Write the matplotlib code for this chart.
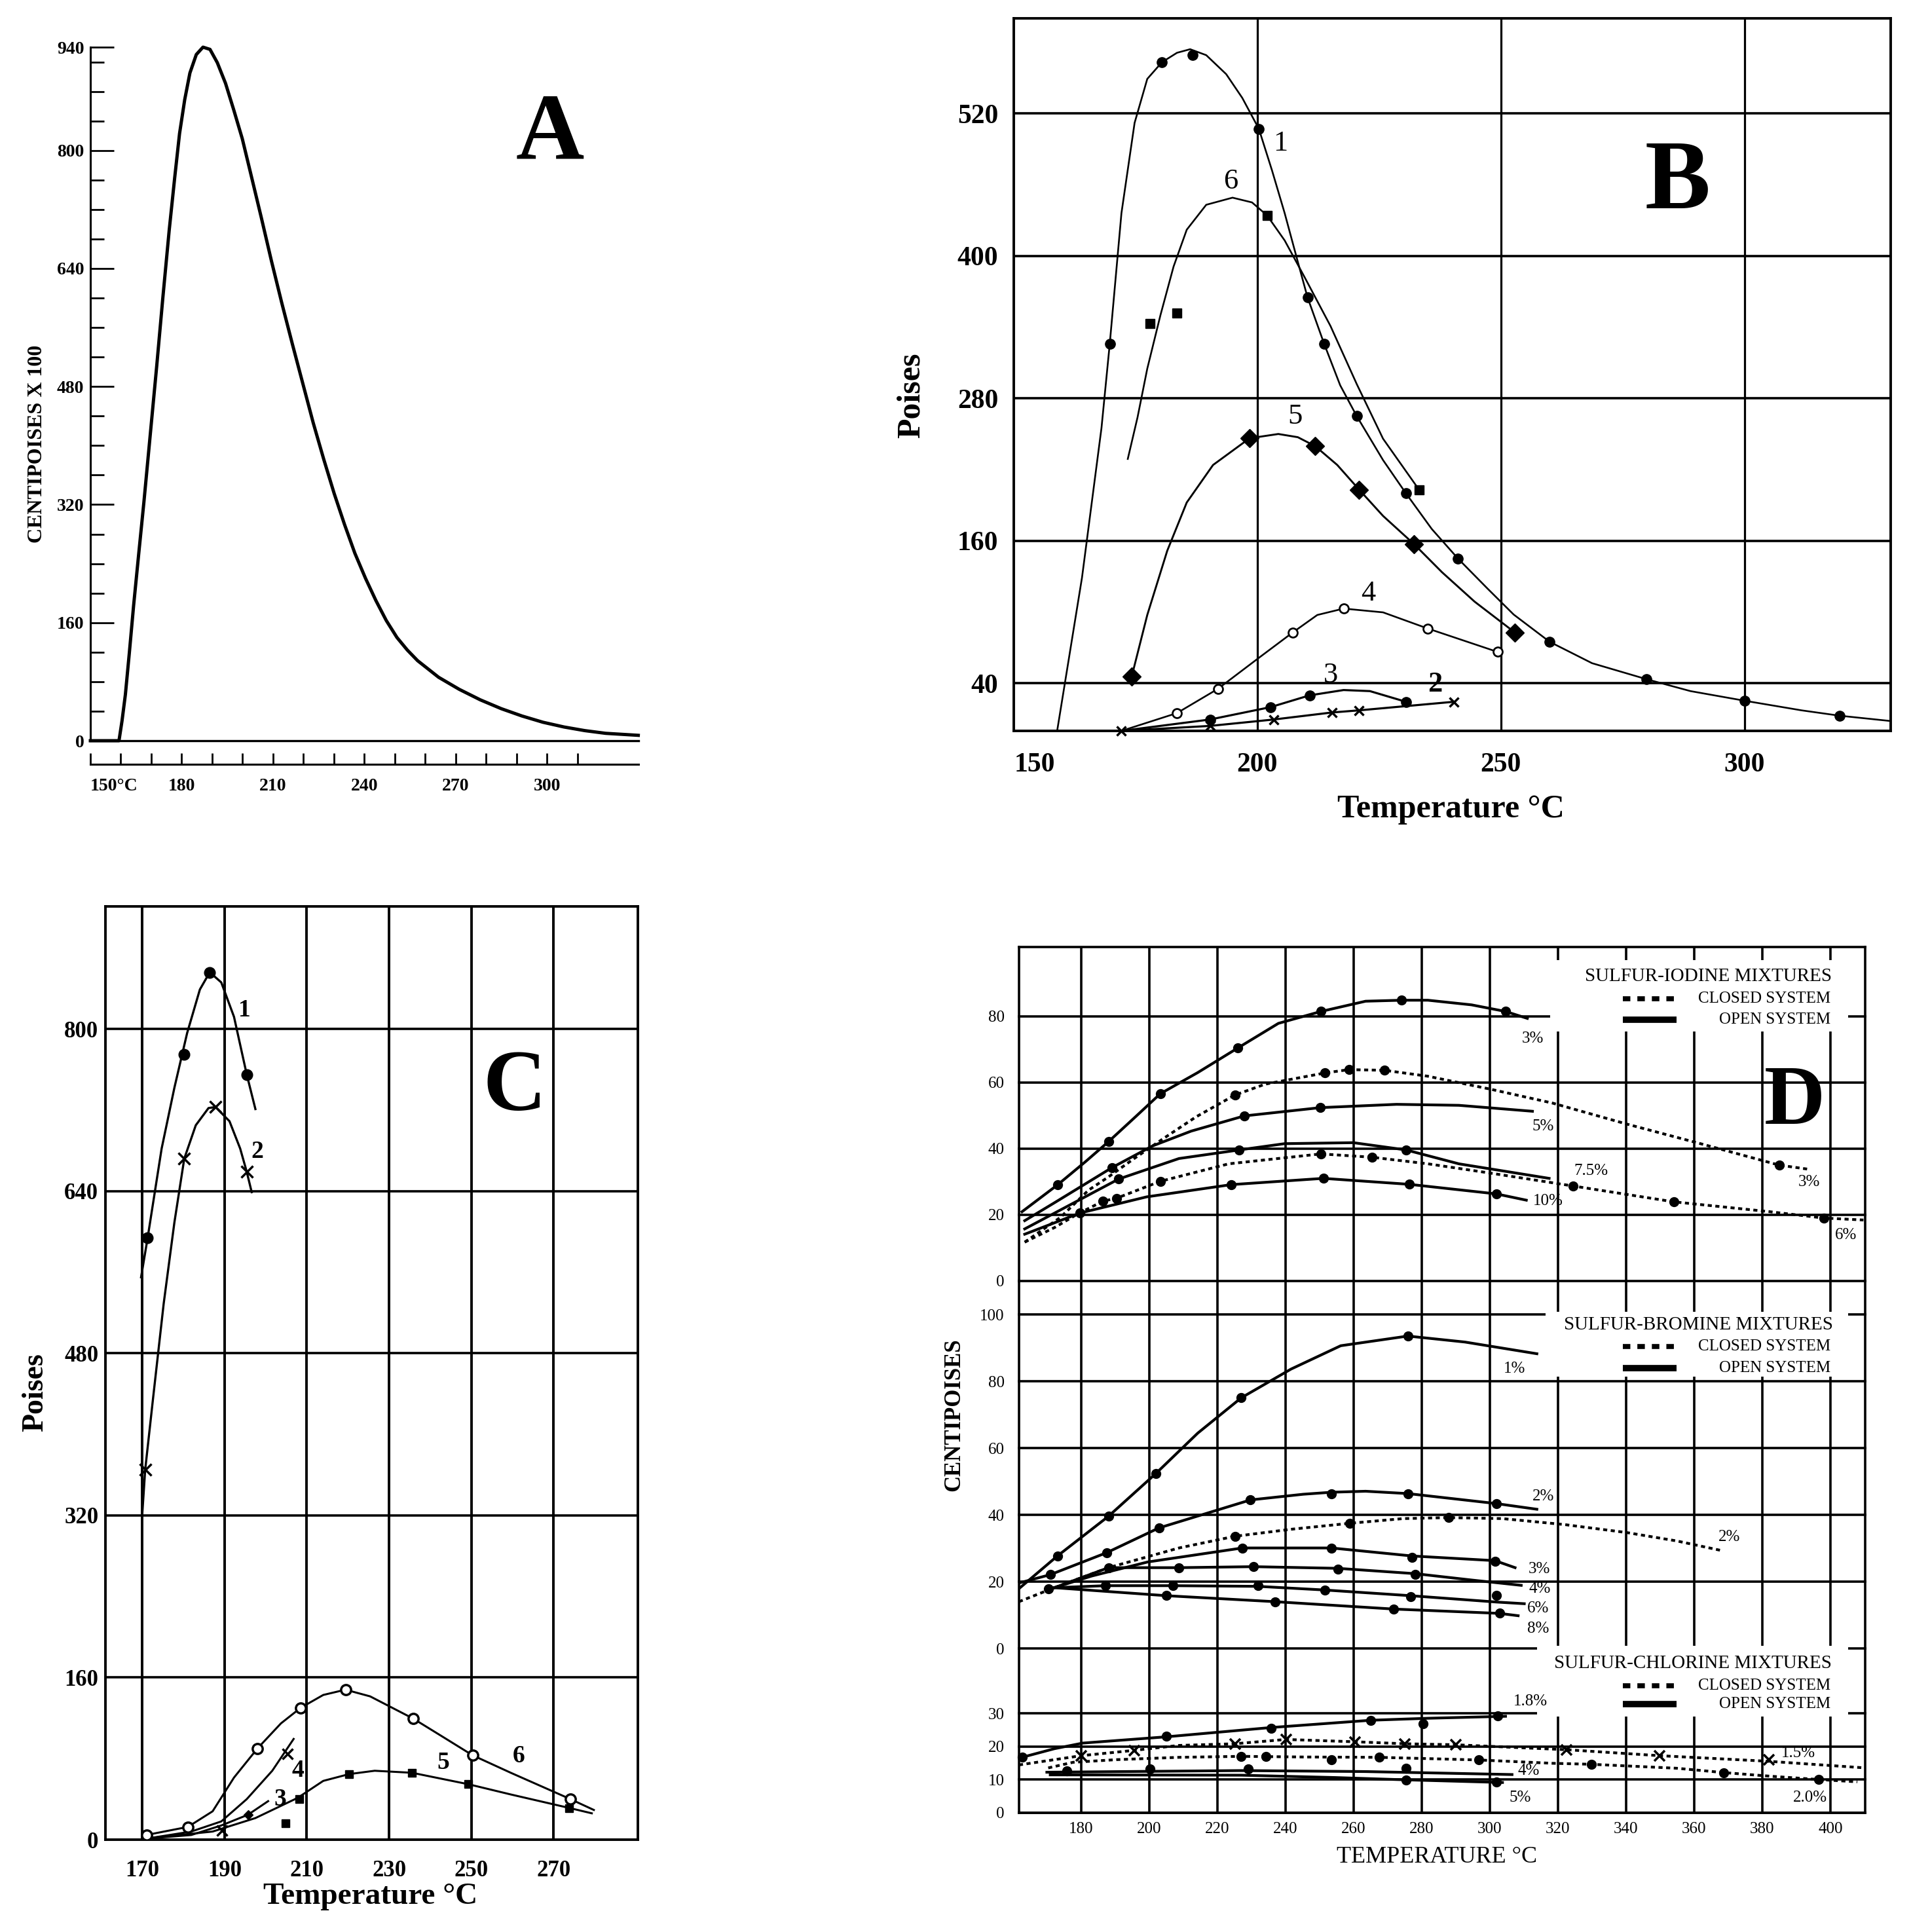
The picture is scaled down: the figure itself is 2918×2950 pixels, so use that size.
import matplotlib
matplotlib.use('Agg')
import matplotlib.pyplot as plt
from matplotlib.patches import Rectangle
from matplotlib.lines import Line2D

plt.rcParams['font.family'] = ['Liberation Serif', 'DejaVu Serif']

# ---------------- Panel A data ----------------
A_temp = [150, 159.4, 160.4, 161.5, 162.8, 164.2, 165.9, 167.6, 169.7, 171.8, 173.8, 175.9, 177.7,
          179.3, 181.0, 182.7, 184.8, 187.0, 189.3, 191.7, 194.4, 197.1, 199.9, 202.6, 206.1, 209.5,
          212.9, 216.4, 219.8, 223.2, 226.7, 230.1, 233.5, 236.9, 240.4, 243.8, 247.2, 250.7, 254.1,
          257.5, 264.4, 271.2, 278.1, 285.0, 291.8, 298.7, 305.6, 312.4, 319.3, 330.0]
A_visc = [0, 0, 27, 62.5, 119, 183, 254, 324, 416, 508, 600, 692, 763,
          823, 869, 905, 930, 940, 937, 919, 891, 855, 816, 770, 710, 650,
          593, 537, 484, 431, 381, 335, 293, 254, 220, 190, 163, 140, 123,
          108.5, 86, 69.6, 55.4, 43.4, 33.5, 25, 18.6, 13.7, 10, 7.3]
A_xmajor = [150, 180, 210, 240, 270, 300]
A_xlabels = ['150°C', '180', '210', '240', '270', '300']
A_xminor = [160, 170, 190, 200, 220, 230, 250, 260, 280, 290, 310]
A_ymajor = [0, 160, 320, 480, 640, 800, 940]
A_yminor = [40, 80, 120, 200, 240, 280, 360, 400, 440, 520, 560, 600, 680, 720, 760, 840, 880, 920]

# ---------------- Panel B data ----------------
B1_line_t = [158.9, 164, 168, 169.7, 172.1, 174.8, 177.4, 180.4, 183.5, 186.2, 189.5, 193.6, 196.9, 200.3,
             203, 205.6, 208.3, 210.3, 213.7, 217, 220.4, 225.8, 230.5, 235.8, 241.2, 247.2, 252.6, 260,
             268.7, 279.9, 288.9, 300, 311.7, 319.5, 330]
B1_line_v = [0, 129, 255, 326, 436, 512, 549, 563, 571, 574, 569, 553, 533, 507,
             472, 436, 395, 365, 326, 291, 265, 228, 200, 170, 145, 120, 98, 75,
             57, 43.5, 33.5, 25.4, 17.3, 12.8, 8.3]
B1_pt_t = [169.7, 180.4, 186.7, 200.3, 210.3, 213.7, 220.4, 230.5, 241.2, 260, 279.9, 300, 319.5]
B1_pt_v = [326, 563, 569, 507, 365, 326, 265, 200, 145, 75, 43.5, 25.4, 12.8]
B6_line_t = [173.4, 175.4, 177.4, 180.1, 182.8, 185.5, 189.5, 194.9, 198.9, 202, 205.6, 209.7, 215, 220.4, 225.8, 233.2]
B6_line_v = [229, 264, 305, 350, 391, 422, 443, 449, 445, 434, 413, 382, 341, 292, 246, 203]
B6_pt_t = [178, 183.5, 202, 233.2]
B6_pt_v = [343, 352, 434, 203]
B5_line_t = [174.2, 177.4, 181.5, 185.5, 190.9, 198.4, 204.3, 208.3, 211.9, 216.4, 220.9, 225.8, 232.2, 237.9, 244.6, 252.9]
B5_line_v = [45.7, 97.6, 151.7, 192.3, 223.9, 246.4, 250, 247.3, 239.7, 223.9, 203.1, 181, 157.1, 133.6, 108.8, 82.7]
B5_pt_t = [174.2, 198.4, 211.9, 220.9, 232.2, 252.9]
B5_pt_v = [45.7, 246.4, 239.7, 203.1, 157.1, 82.7]
B4_line_t = [172.1, 183.5, 191.9, 200.3, 207.2, 212.3, 217.7, 225.8, 234.9, 249.3]
B4_line_v = [0, 15, 35.4, 61.5, 82.7, 97.6, 103, 99.8, 86.3, 66.5]
B4_pt_t = [183.5, 191.9, 207.2, 217.7, 234.9, 249.3]
B4_pt_v = [15, 35.4, 82.7, 103, 86.3, 66.5]
B3_line_t = [172.1, 190.3, 202.7, 210.7, 217.7, 223.1, 230.5]
B3_line_v = [0, 9.6, 20, 29.9, 34.4, 33.5, 24.5]
B3_pt_t = [190.3, 202.7, 210.7, 230.5]
B3_pt_v = [9.6, 20, 29.9, 24.5]
B2_t = [172.1, 190.3, 203.4, 215.3, 220.9, 240.3]
B2_v = [0, 4.2, 9.6, 15.5, 17.3, 24.5]
B_labels = ['1', '6', '5', '4', '3', '2']
B_label_t = [204.7, 194.5, 207.7, 222.7, 215, 236.5]
B_label_v = [494.5, 462.9, 264.5, 115.6, 47, 39]
B_hgrid = [40, 160, 280, 400, 520]
B_vgrid = [200, 250, 300]
B_xticks = [154.3, 200, 250, 300]
B_xticklabels = ['150', '200', '250', '300']

# ---------------- Panel C data ----------------
C1_line_t = [169.7, 171.3, 174.7, 177.8, 180.9, 184, 186.4, 189.2, 192.3, 195.4, 197.5]
C1_line_v = [555, 594, 682, 742, 796, 839, 856, 846, 812, 755, 721]
C1_pt_t = [171.3, 180.2, 186.4, 195.4]
C1_pt_v = [594, 775, 856, 755]
C2_line_t = [170, 170.7, 172.6, 175.2, 177.8, 180.2, 183, 186.1, 187.8, 191.2, 193.8, 195.4, 196.6]
C2_line_v = [322, 365, 435, 529, 609, 672, 705, 722, 723, 709, 682, 659, 639]
C2_pt_t = [170.7, 180.2, 187.8, 195.4]
C2_pt_v = [365, 672, 723, 659]
C6_line_t = [171, 181.1, 187.1, 192.3, 198, 203.7, 208.5, 214, 219.4, 225.4, 235.9, 243.1, 250.3, 259.6, 274.1, 279.8]
C6_line_v = [4.6, 12.6, 28, 61.3, 90, 114.7, 130.1, 142.8, 148, 141.4, 119.4, 101.4, 83.3, 66, 40, 29.3]
C6_pt_t = [171, 181.1, 198, 208.5, 219.4, 235.9, 250.3, 274.1]
C6_pt_v = [4.6, 12.6, 90, 130.1, 148, 119.4, 83.3, 40]
C5_line_t = [171, 187.1, 197.5, 207.8, 214, 220.3, 226.5, 235.6, 249.3, 259.6, 273.8, 279.3]
C5_line_v = [1.3, 8, 21.3, 41.3, 58, 64.7, 68, 66, 54.7, 44.6, 31.3, 26]
C5_pt_t = [204.9, 208.1, 220.3, 235.6, 249.3, 273.8]
C5_pt_v = [16, 40, 64.7, 66, 54.7, 31.3]
C4_line_t = [171, 181.9, 189.2, 195.4, 201.6, 206.8]
C4_line_v = [1, 8, 18, 40, 68, 99.4]
C4_pt_t = [189.4, 205.3]
C4_pt_v = [9.2, 84.7]
C3_line_t = [171, 181.9, 189.2, 195.7, 200.6]
C3_line_v = [1, 4.6, 14, 24.6, 38]
C3_pt_t = [195.7]
C3_pt_v = [24.6]
C_labels = ['1', '2', '3', '4', '5', '6']
C_label_t = [194.9, 198, 203.5, 207.8, 243.1, 261.5]
C_label_v = [818.8, 678.7, 40, 68, 76, 82.7]
C_hgrid = [160, 320, 480, 640, 800]
C_vgrid = [170, 190, 210, 230, 250, 270]
C_yticks = [0, 160, 320, 480, 640, 800]

# ---------------- Panel D data ----------------
# Sulfur-iodine
I_o3_t = [162.6, 173.0, 181.3, 188.0, 195.9, 203.2, 214.2, 225.9, 237.9, 250.4, 263.5, 274.1, 281.8, 294.6, 304.6, 311.0]
I_o3_v = [20.9, 29.0, 36.1, 42.1, 49.6, 56.6, 63.0, 70.4, 77.9, 81.5, 84.6, 84.9, 84.9, 83.5, 81.5, 79.4]
I_o3_pt_t = [173.0, 188.0, 203.2, 225.9, 250.4, 274.1, 304.6]
I_o3_pt_v = [29.0, 42.1, 56.6, 70.4, 81.5, 84.9, 81.5]
I_c3_t = [163.4, 173.9, 182.1, 187.8, 195.4, 204.2, 213.7, 225.1, 234.0, 251.6, 258.6, 269, 281.8, 300.1,
          318.3, 340.3, 362.2, 385, 393.3]
I_c3_v = [11.7, 19.2, 27.4, 31.3, 36.9, 43.1, 49.6, 56.2, 59.5, 62.9, 63.9, 63.7, 61.9, 58.0,
          53.8, 47.4, 41.4, 35.0, 33.8]
I_c3_pt_t = [225.1, 251.6, 258.6, 269, 385]
I_c3_pt_v = [56.2, 62.9, 63.9, 63.7, 35.0]
I_c6_t = [163.4, 172.3, 178.9, 186.4, 190.4, 203.2, 223.3, 250.4, 265.3, 281.8, 300.1, 324.4, 354, 382.3, 398, 409.7]
I_c6_v = [11.7, 16.2, 20.2, 24.1, 25.0, 30.1, 35.4, 38.4, 37.4, 35.4, 32.6, 28.7, 23.9, 20.9, 19.0, 18.4]
I_c6_pt_t = [186.4, 190.4, 203.2, 250.4, 265.3, 324.4, 354, 398]
I_c6_pt_v = [24.1, 25.0, 30.1, 38.4, 37.4, 28.7, 23.9, 19.0]
I_o5_t = [163.4, 172.1, 189.1, 200.9, 212.3, 227.9, 250.2, 272.6, 290.9, 312.5]
I_o5_v = [18.2, 23.6, 34.3, 40.8, 45.3, 49.9, 52.4, 53.4, 53.1, 51.3]
I_o5_pt_t = [189.1, 227.9, 250.2]
I_o5_pt_v = [34.3, 49.9, 52.4]
I_o75_t = [163.4, 191, 208.7, 226.4, 239.7, 259.9, 275.4, 290.9, 317.4]
I_o75_v = [15.7, 30.8, 37.0, 39.6, 41.5, 41.8, 39.6, 35.4, 31.0]
I_o75_pt_t = [191, 226.4, 275.4]
I_o75_pt_v = [30.8, 39.6, 39.6]
I_o10_t = [163.4, 179.6, 199.2, 224, 251.1, 276.3, 301.9, 310.7]
I_o10_v = [14.1, 20.5, 25.4, 29.1, 31.0, 29.2, 26.3, 24.4]
I_o10_pt_t = [179.6, 224, 251.1, 276.3, 301.9]
I_o10_pt_v = [20.5, 29.1, 31.0, 29.2, 26.3]
I_labels = ['3%', '5%', '7.5%', '10%', '3%', '6%']
I_label_t = [312.5, 315.6, 329.8, 317.1, 393.8, 404.6]
I_label_v = [73.3, 46.7, 33.2, 24.1, 29.9, 13.8]
I_yticks = [0, 20, 40, 60, 80]

# Sulfur-bromine
R_o1_t = [161.7, 173.0, 188.0, 201.9, 214.2, 227.0, 241.6, 256.2, 275.9, 292.7, 313.8]
R_o1_v = [17.9, 27.7, 39.6, 52.4, 64.5, 75.1, 83.7, 90.7, 93.6, 91.8, 88.3]
R_o1_pt_t = [173.0, 188.0, 201.9, 227.0, 275.9]
R_o1_pt_v = [27.7, 39.6, 52.4, 75.1, 93.6]
R_o2_t = [161.7, 170.9, 187.5, 202.8, 229.7, 245.2, 253.5, 263.5, 275.9, 301.9, 313.8]
R_o2_v = [19.6, 22.1, 28.7, 36.1, 44.5, 46.2, 46.8, 47.1, 46.4, 43.4, 41.7]
R_o2_pt_t = [170.9, 187.5, 202.8, 229.7, 253.5, 275.9, 301.9]
R_o2_pt_v = [22.1, 28.7, 36.1, 44.5, 46.4, 46.4, 43.4]
R_c2_t = [161.7, 172.1, 188, 208.7, 225.1, 241.6, 258.9, 274.5, 287.8, 303.7, 322, 340.3, 354.9, 367.7]
R_c2_v = [14.0, 18.2, 24.2, 30.1, 33.6, 35.7, 37.5, 38.9, 39.2, 38.9, 37.1, 34.7, 32.2, 29.4]
R_c2_pt_t = [225.1, 258.9, 287.8]
R_c2_pt_v = [33.6, 37.5, 39.2]
R_o3_t = [172.1, 183.1, 199.5, 227.3, 253.5, 277.2, 301.5, 307.4]
R_o3_v = [18.2, 21.7, 25.9, 30.1, 30.1, 27.7, 26.3, 24.2]
R_o3_pt_t = [227.3, 253.5, 277.2, 301.5]
R_o3_pt_v = [30.1, 30.1, 27.3, 26.1]
R_o4_t = [172.1, 188, 208.7, 230.6, 255.3, 278.1, 294.6, 309.2]
R_o4_v = [18.2, 24.2, 24.2, 24.5, 24.0, 22.4, 20.5, 18.9]
R_o4_pt_t = [188, 208.7, 230.6, 255.3, 278.1]
R_o4_pt_v = [24.2, 24.2, 24.5, 23.7, 22.1]
R_o6_t = [172.1, 187.1, 206.9, 231.9, 251.6, 276.7, 301.9, 310.1]
R_o6_v = [18.2, 18.8, 18.8, 18.6, 17.5, 15.8, 13.9, 13.4]
R_o6_pt_t = [187.1, 206.9, 231.9, 251.6, 276.7, 301.9]
R_o6_pt_v = [18.9, 18.9, 18.8, 17.5, 15.6, 15.8]
R_o8_t = [172.1, 205, 237, 271.7, 302.8, 308.3]
R_o8_v = [18.2, 15.8, 14.0, 11.8, 10.5, 9.8]
R_o8_pt_t = [170.3, 205, 237, 271.7, 302.8]
R_o8_pt_v = [17.9, 15.8, 14.0, 11.8, 10.5]
R_labels = ['1%', '2%', '2%', '3%', '4%', '6%', '8%']
R_label_t = [307.3, 315.6, 370.4, 314.6, 314.6, 314.2, 314.2]
R_label_v = [83.8, 45.5, 33.3, 23.8, 17.9, 12.0, 5.9]
R_yticks = [0, 20, 40, 60, 80, 100]

# Sulfur-chlorine
L_o18_t = [162.6, 172.1, 180.4, 205, 235.7, 265, 281.8, 304.6]
L_o18_v = [16.7, 19.3, 21.0, 22.9, 25.7, 27.9, 28.5, 29.1]
L_o18_pt_t = [162.6, 205, 235.7, 265, 280.3, 302.4]
L_o18_pt_v = [16.7, 23.1, 25.5, 27.8, 26.9, 29.2]
L_c15_t = [161.7, 180, 195.5, 208.7, 225.1, 240.1, 260.4, 275, 290, 309.2, 322.5, 349.8, 381.9, 410.3]
L_c15_v = [14.4, 17.2, 18.8, 20.3, 20.8, 22.1, 21.4, 20.8, 20.5, 19.6, 19.0, 17.2, 15.5, 13.5]
L_c15_pt_t = [180, 195.5, 225.1, 240.1, 260.4, 275, 290, 322.5, 349.8, 381.9]
L_c15_pt_v = [17.2, 18.8, 20.8, 22.1, 21.4, 20.8, 20.5, 19.0, 17.2, 16.0]
L_c20_t = [170.3, 177.6, 190.4, 208.7, 227, 245.2, 267.5, 296.8, 318.3, 329.8, 354.9, 368.6, 382.3, 396.5, 407.9]
L_c20_v = [13.5, 15.2, 16.0, 16.7, 17.0, 16.8, 16.7, 15.9, 14.9, 14.6, 13.4, 12.1, 11.0, 10.0, 9.3]
L_c20_pt_t = [175.8, 227, 234.3, 253.5, 267.5, 296.8, 329.8, 368.6, 396.5]
L_c20_pt_v = [12.7, 17.0, 17.0, 15.9, 16.7, 15.9, 14.6, 12.1, 10.1]
L_o4_t = [169.9, 227, 263.5, 306.5]
L_o4_v = [12.2, 12.7, 12.4, 11.5]
L_o4_pt_t = [200.1, 229.1, 275.4]
L_o4_pt_v = [13.2, 13.2, 13.3]
L_o5_t = [170.9, 227, 254.4, 275.4, 303.7]
L_o5_v = [11.4, 11.3, 10.6, 9.9, 9.1]
L_o5_pt_t = [275.4, 302.0]
L_o5_pt_v = [9.8, 9.3]
L_labels = ['1.8%', '1.5%', '4%', '5%', '2.0%']
L_label_t = [311.9, 390.5, 311.4, 308.8, 394.1]
L_label_v = [33.5, 18.0, 12.7, 4.5, 4.5]
L_yticks = [0, 10, 20, 30]

D_xticks = [180, 200, 220, 240, 260, 280, 300, 320, 340, 360, 380, 400]
D_legend_titles = ['SULFUR-IODINE MIXTURES', 'SULFUR-BROMINE MIXTURES', 'SULFUR-CHLORINE MIXTURES']

# ---------------- layout helpers ----------------
W, H = 2918, 2950


def box(l, t, r, b):
    return [l / W, 1 - b / H, (r - l) / W, (b - t) / H]


def ftext(x, y, s, **kw):
    return fig.text(x / W, 1 - y / H, s, **kw)


fig = plt.figure(figsize=(W / 100, H / 100), dpi=100)
fig.patch.set_facecolor('white')

# ================= Panel A =================
axA = fig.add_axes(box(138, 72, 974.6, 1131))
axA.set_xlim(150, 330)
axA.set_ylim(0, 940)
axA.plot(A_temp, A_visc, color='k', lw=3.6, clip_on=False, solid_joinstyle='round', zorder=3)
axA.axhline(0, color='k', lw=2.4, zorder=2, clip_on=False)
for s in ['top', 'right']:
    axA.spines[s].set_visible(False)
axA.spines['left'].set_linewidth(2.2)
axA.spines['bottom'].set_position(('outward', 26))
axA.spines['bottom'].set_linewidth(2.2)
axA.set_xticks(A_xmajor, A_xlabels)
axA.set_xticks(A_xminor, minor=True)
axA.tick_params(axis='x', which='both', direction='in', length=12, width=2.0, pad=15, labelsize=20)
axA.set_yticks(A_ymajor, [str(v) for v in A_ymajor])
axA.set_yticks(A_yminor, minor=True)
axA.tick_params(axis='y', which='major', direction='in', length=26, width=2.0, pad=7, labelsize=20)
axA.tick_params(axis='y', which='minor', direction='in', length=15, width=2.0)
for lbl in axA.get_xticklabels() + axA.get_yticklabels():
    lbl.set_fontweight('bold')
axA.get_xticklabels()[0].set_horizontalalignment('left')
ftext(57, 678, 'CENTIPOISES X 100', rotation=90, ha='center', va='center', fontsize=23, fontweight='bold')
ftext(840, 243, 'A', ha='center', va='baseline', fontsize=104, fontweight='bold')

# ================= Panel B =================
axB = fig.add_axes(box(1548, 28, 2887, 1116))
axB.set_xlim(150, 330)
axB.set_ylim(0, 600)
for v in B_hgrid:
    axB.axhline(v, color='k', lw=2.6, zorder=1)
for t in B_vgrid:
    axB.axvline(t, color='k', lw=2.3, zorder=1)
for s in axB.spines.values():
    s.set_linewidth(2.8)
axB.plot(B1_line_t, B1_line_v, color='k', lw=1.9, zorder=3)
axB.plot(B1_pt_t, B1_pt_v, 'o', color='k', ms=11, zorder=4)
axB.plot(B6_line_t, B6_line_v, color='k', lw=1.9, zorder=3)
axB.plot(B6_pt_t, B6_pt_v, 's', color='k', ms=10, zorder=4)
axB.plot(B5_line_t, B5_line_v, color='k', lw=2.1, zorder=3)
axB.plot(B5_pt_t, B5_pt_v, 'D', color='k', ms=14, zorder=4)
axB.plot(B4_line_t, B4_line_v, color='k', lw=1.9, zorder=3)
axB.plot(B4_pt_t, B4_pt_v, 'o', color='k', mfc='white', mew=2, ms=10, zorder=4)
axB.plot(B3_line_t, B3_line_v, color='k', lw=2.3, zorder=3)
axB.plot(B3_pt_t, B3_pt_v, 'o', color='k', ms=11, zorder=4)
axB.plot(B2_t, B2_v, color='k', lw=2.3, zorder=3, clip_on=False)
axB.plot(B2_t, B2_v, 'x', color='k', ms=10, mew=2.5, zorder=4, clip_on=False)
for s, t, v in zip(B_labels, B_label_t, B_label_v):
    axB.text(t, v, s, ha='center', va='center', fontsize=32,
             fontweight='bold' if s == '2' else 'normal', zorder=5)
axB.set_yticks(B_hgrid, [str(v) for v in B_hgrid])
axB.set_xticks(B_xticks, B_xticklabels)
axB.tick_params(axis='both', length=0, labelsize=30)
axB.tick_params(axis='y', pad=17)
axB.tick_params(axis='x', pad=24)
for lbl in axB.get_xticklabels() + axB.get_yticklabels():
    lbl.set_fontweight('bold')
ftext(2215, 1236, 'Temperature °C', ha='center', va='center', fontsize=36, fontweight='bold')
ftext(1392, 604, 'Poises', rotation=90, ha='center', va='center', fontsize=36, fontweight='bold')
ftext(2562, 318, 'B', ha='center', va='baseline', fontsize=108, fontweight='bold')

# ================= Panel C =================
axC = fig.add_axes(box(161.4, 1384, 974, 2809))
axC.set_xlim(161.1, 290.5)
axC.set_ylim(0, 921)
for v in C_hgrid:
    axC.axhline(v, color='k', lw=2.6, zorder=1)
for t in C_vgrid:
    axC.axvline(t, color='k', lw=2.8, zorder=1)
for s in axC.spines.values():
    s.set_linewidth(2.8)
axC.plot(C1_line_t, C1_line_v, color='k', lw=2.4, zorder=3)
axC.plot(C1_pt_t, C1_pt_v, 'o', color='k', ms=12, zorder=4)
axC.plot(C2_line_t, C2_line_v, color='k', lw=2.4, zorder=3)
axC.plot(C2_pt_t, C2_pt_v, 'x', color='k', ms=13, mew=2.5, zorder=4)
axC.plot(C6_line_t, C6_line_v, color='k', lw=2.2, zorder=3)
axC.plot(C6_pt_t, C6_pt_v, 'o', color='k', mfc='white', mew=2.5, ms=11, zorder=4)
axC.plot(C5_line_t, C5_line_v, color='k', lw=2.2, zorder=3)
axC.plot(C5_pt_t, C5_pt_v, 's', color='k', ms=9, zorder=4)
axC.plot(C4_line_t, C4_line_v, color='k', lw=2.2, zorder=3)
axC.plot(C4_pt_t, C4_pt_v, 'x', color='k', ms=11, mew=2.5, zorder=4)
axC.plot(C3_line_t, C3_line_v, color='k', lw=2.2, zorder=3)
axC.plot(C3_pt_t, C3_pt_v, 'D', color='k', ms=7, zorder=4)
for s, t, v in zip(C_labels, C_label_t, C_label_v):
    axC.text(t, v, s, ha='center', va='center', fontsize=27, fontweight='bold', zorder=5)
axC.set_yticks(C_yticks, [str(v) for v in C_yticks])
axC.set_xticks(C_vgrid, [str(v) for v in C_vgrid])
axC.tick_params(axis='both', length=0, labelsize=25)
axC.tick_params(axis='y', pad=8)
axC.tick_params(axis='x', pad=22)
for lbl in axC.get_xticklabels() + axC.get_yticklabels():
    lbl.set_fontweight('bold')
ftext(566, 2896, 'Temperature °C', ha='center', va='center', fontsize=34, fontweight='bold')
ftext(54, 2126, 'Poises', rotation=90, ha='center', va='center', fontsize=33, fontweight='bold')
ftext(786, 1695, 'C', ha='center', va='baseline', fontsize=96, fontweight='bold')

# ================= Panel D =================
D_l, D_r = 1556, 2848
axI = fig.add_axes(box(D_l, 1446, D_r, 1955.7))
axR = fig.add_axes(box(D_l, 1955.7, D_r, 2517))
axL = fig.add_axes(box(D_l, 2517, D_r, 2767.7))
axI.set_ylim(0, 101.0)
axR.set_ylim(0, 110.15)
axL.set_ylim(0, 49.6)
GLW = 2.6
for ax, yt in [(axI, I_yticks), (axR, R_yticks), (axL, L_yticks)]:
    ax.set_xlim(161.73, 410.2)
    ax.set_facecolor('none')
    for s in ['top', 'bottom']:
        ax.spines[s].set_visible(False)
    for s in ['left', 'right']:
        ax.spines[s].set_linewidth(GLW)
    for v in yt:
        ax.axhline(v, color='k', lw=GLW, zorder=1, clip_on=False)
    for t in D_xticks:
        ax.axvline(t, color='k', lw=GLW, zorder=1)
    ax.set_yticks(yt, [str(v) for v in yt])
    ax.tick_params(axis='y', length=0, labelsize=18, pad=16)
    ax.tick_params(axis='x', length=0)
axI.spines['top'].set_visible(True)
axI.spines['top'].set_linewidth(GLW)
axL.spines['bottom'].set_visible(True)
axL.spines['bottom'].set_linewidth(GLW)
axI.set_xticks([])
axR.set_xticks([])
axL.set_xticks(D_xticks, [str(t) for t in D_xticks])
axL.tick_params(axis='x', length=0, labelsize=18, pad=10)

# legend boxes: white panels hiding the grid behind the legends
legend_axes = [axI, axR, axL]
legend_boxes = [(2367, 1466, 2822, 1575), (2360, 2003, 2822, 2102), (2347, 2513, 2822, 2621)]
for ax, (l, t, r, b) in zip(legend_axes, legend_boxes):
    ax.add_artist(Rectangle((l / W, 1 - b / H), (r - l) / W, (b - t) / H, transform=fig.transFigure,
                            facecolor='white', edgecolor='none', zorder=2.5, clip_on=False))

DOT = (0, (1.5, 1.3))
LW_D = 3.0
MS_D = 10


def dseries(ax, lt, lv, pt, pv, closed=False, marker='o'):
    ax.plot(lt, lv, color='k', lw=LW_D, zorder=3, linestyle=DOT if closed else '-')
    if marker == 'x':
        ax.plot(pt, pv, 'x', color='k', ms=12, mew=2.6, zorder=4, clip_on=False)
    else:
        ax.plot(pt, pv, 'o', color='k', ms=MS_D, zorder=4, clip_on=False)


dseries(axI, I_o3_t, I_o3_v, I_o3_pt_t, I_o3_pt_v)
dseries(axI, I_c3_t, I_c3_v, I_c3_pt_t, I_c3_pt_v, closed=True)
dseries(axI, I_c6_t, I_c6_v, I_c6_pt_t, I_c6_pt_v, closed=True)
dseries(axI, I_o5_t, I_o5_v, I_o5_pt_t, I_o5_pt_v)
dseries(axI, I_o75_t, I_o75_v, I_o75_pt_t, I_o75_pt_v)
dseries(axI, I_o10_t, I_o10_v, I_o10_pt_t, I_o10_pt_v)
dseries(axR, R_o1_t, R_o1_v, R_o1_pt_t, R_o1_pt_v)
dseries(axR, R_o2_t, R_o2_v, R_o2_pt_t, R_o2_pt_v)
dseries(axR, R_c2_t, R_c2_v, R_c2_pt_t, R_c2_pt_v, closed=True)
dseries(axR, R_o3_t, R_o3_v, R_o3_pt_t, R_o3_pt_v)
dseries(axR, R_o4_t, R_o4_v, R_o4_pt_t, R_o4_pt_v)
dseries(axR, R_o6_t, R_o6_v, R_o6_pt_t, R_o6_pt_v)
dseries(axR, R_o8_t, R_o8_v, R_o8_pt_t, R_o8_pt_v)
dseries(axL, L_o18_t, L_o18_v, L_o18_pt_t, L_o18_pt_v)
dseries(axL, L_c15_t, L_c15_v, L_c15_pt_t, L_c15_pt_v, closed=True, marker='x')
dseries(axL, L_c20_t, L_c20_v, L_c20_pt_t, L_c20_pt_v, closed=True)
dseries(axL, L_o4_t, L_o4_v, L_o4_pt_t, L_o4_pt_v)
dseries(axL, L_o5_t, L_o5_v, L_o5_pt_t, L_o5_pt_v)

for ax, labs, lt, lv in [(axI, I_labels, I_label_t, I_label_v),
                         (axR, R_labels, R_label_t, R_label_v),
                         (axL, L_labels, L_label_t, L_label_v)]:
    for s, t, v in zip(labs, lt, lv):
        ax.text(t, v, s, ha='center', va='center', fontsize=18, zorder=5)

legend_title_y = [1491, 2022.5, 2540]
legend_title_x = [2609, 2593, 2585]
legend_closed_y = [1524.6, 2055.7, 2574]
legend_open_y = [1557.5, 2089.3, 2602]
for title, tx, ty, cy, oy in zip(D_legend_titles, legend_title_x, legend_title_y,
                                 legend_closed_y, legend_open_y):
    ftext(tx, ty, title, ha='center', va='center', fontsize=21, zorder=6)
    ftext(2795, cy, 'CLOSED SYSTEM', ha='right', va='center', fontsize=18, zorder=6)
    ftext(2795, oy, 'OPEN SYSTEM', ha='right', va='center', fontsize=18, zorder=6)
    fig.add_artist(Line2D([2478 / W, 2560 / W], [1 - cy / H, 1 - cy / H], transform=fig.transFigure,
                          color='k', lw=5.5, linestyle=(0, (1.5, 1.4)), zorder=6))
    fig.add_artist(Line2D([2478 / W, 2560 / W], [1 - oy / H, 1 - oy / H], transform=fig.transFigure,
                          color='k', lw=7, solid_capstyle='butt', zorder=6))

ftext(2194, 2835, 'TEMPERATURE °C', ha='center', va='center', fontsize=26)
ftext(1457, 2160, 'CENTIPOISES', rotation=90, ha='center', va='center', fontsize=25, fontweight='bold')
ftext(2740, 1716, 'D', ha='center', va='baseline', fontsize=93, fontweight='bold')

fig.savefig('out.png', dpi=100, facecolor='white')
